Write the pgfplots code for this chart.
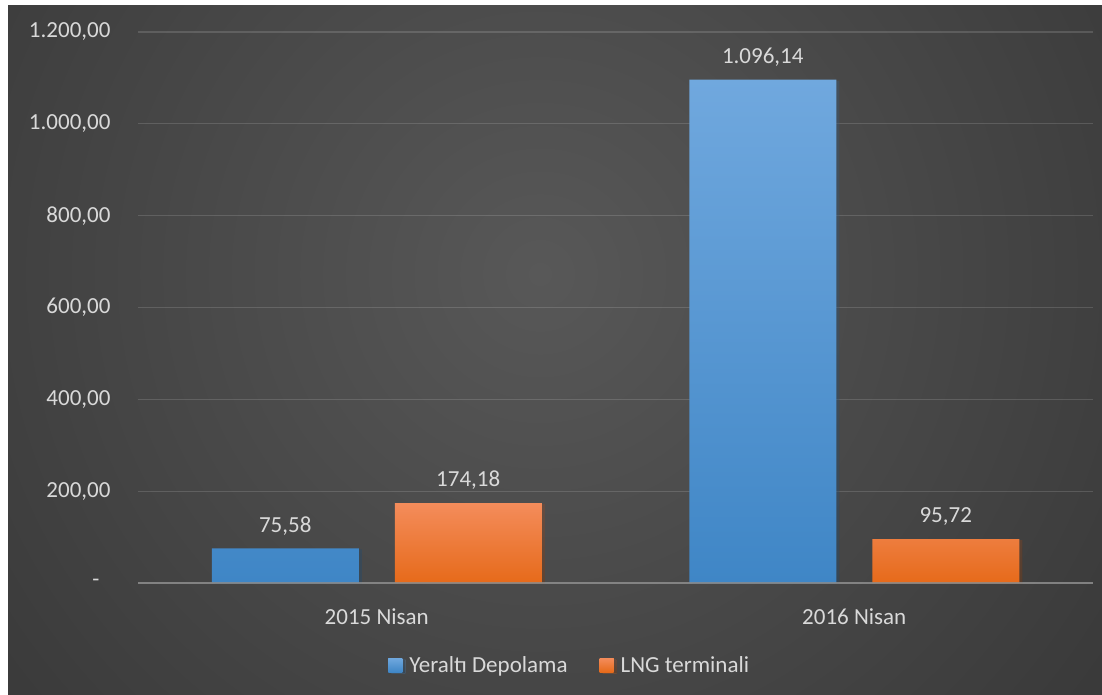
\documentclass[border=0pt]{standalone}
\usepackage{pgfplots}
\pgfplotsset{compat=1.18}
\usepackage{fontspec}
\setmainfont{Carlito}
\definecolor{txt}{HTML}{D9D9D9}
\definecolor{blueT}{HTML}{70A8DE}
\definecolor{blueB}{HTML}{3F86C6}
\definecolor{orT}{HTML}{F48C5B}
\definecolor{orB}{HTML}{E66A1A}
\definecolor{bg0}{HTML}{585858}
\definecolor{bg1}{HTML}{3C3C3C}
\definecolor{bg2}{HTML}{2C2C2C}
\definecolor{bg3}{HTML}{232323}
\definecolor{axln}{HTML}{8C8C8C}
\pgfdeclareradialshading{bgshade}{\pgfpoint{0bp}{0bp}}{color(0bp)=(bg0); color(20bp)=(bg1); color(32bp)=(bg2); color(50bp)=(bg3)}
\newcommand{\lf}{\fontsize{23}{27}\selectfont}
\begin{document}
\begin{tikzpicture}[x=1pt,y=1pt]
\fill[white] (0,0) rectangle (1102,694);
\fill[bg3] (8,0) rectangle (1102,688);
\begin{scope}
\clip (8,0) rectangle (1102,688);
\shade[shading=bgshade] (540,420) circle (800);
\end{scope}
\begin{axis}[
  at={(138pt,111pt)}, anchor=south west,
  scale only axis, width=955pt, height=551pt,
  xmin=-0.5, xmax=1.5, ymin=0, ymax=1200,
  axis line style={draw=none},
  tick style={draw=none},
  ytick={0,200,400,600,800,1000,1200},
  yticklabels={{-\hspace*{11pt}},{200,00},{400,00},{600,00},{800,00},{1.000,00},{1.200,00}},
  xtick={0,1},
  xticklabels={2015 Nisan,2016 Nisan},
  tick label style={text=txt, font=\lf},
  yticklabel style={xshift=-24pt},
  xticklabel style={anchor=base, yshift=-37pt},
  ymajorgrids,
  major grid style={draw=white, opacity=0.14, line width=1.3pt},
  ybar=36pt, bar width=147pt,
  nodes near coords={\pgfmathprintnumber[fixed, fixed zerofill, precision=2, use comma, 1000 sep={.}, assume math mode=true]{\pgfplotspointmeta}},
  every node near coord/.append style={text=txt, font=\lf, inner sep=0pt, yshift=13pt},
  legend style={at={(axis description cs:0.452,-0.149)}, anchor=center, draw=none, fill=none, text=txt, font=\lf, legend columns=2,
    /tikz/every odd column/.append style={column sep=5pt},
    /tikz/every even column/.append style={column sep=30pt}},
  legend cell align=left,
]
\addplot[draw=none, top color=blueT, bottom color=blueB,
  preaction={fill=black, opacity=0.22, transform canvas={xshift=3pt, yshift=-1pt}},
  legend image code/.code={\fill[fill=blueT!40!blueB] (0pt,-7pt) rectangle (14pt,7pt);}]
  coordinates {(0,75.58) (1,1096.14)};
\addlegendentry{Yeraltı Depolama}
\addplot[draw=none, top color=orT, bottom color=orB,
  preaction={fill=black, opacity=0.22, transform canvas={xshift=3pt, yshift=-1pt}},
  legend image code/.code={\fill[fill=orT!40!orB] (0pt,-7pt) rectangle (14pt,7pt);}]
  coordinates {(0,174.18) (1,95.72)};
\addlegendentry{LNG terminali}
\draw[axln, line width=2pt, opacity=0.8] (axis cs:-0.5,0) -- (axis cs:1.5,0);
\end{axis}
\end{tikzpicture}
\end{document}
